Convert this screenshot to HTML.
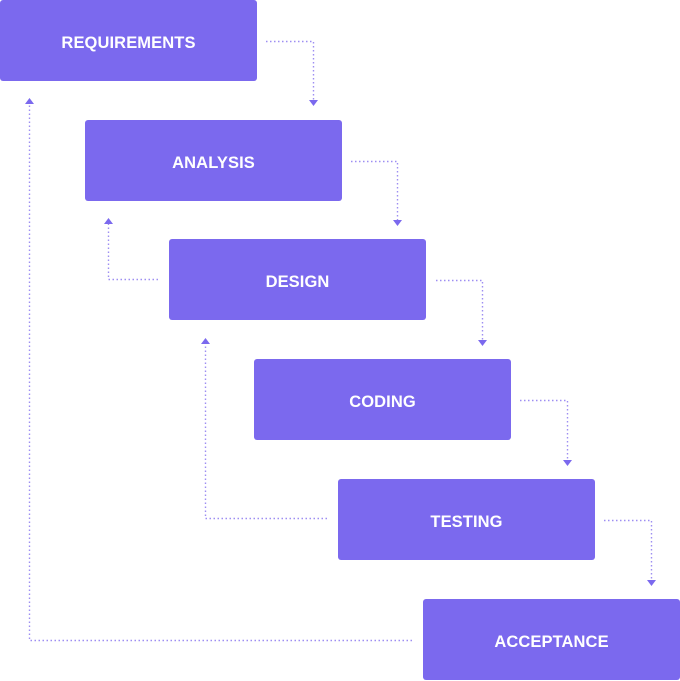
<!DOCTYPE html>
<html><head><style>
body{margin:0;width:680px;height:681px;background:#fff;overflow:hidden;position:relative;font-family:"Liberation Sans",sans-serif}
.b{position:absolute;box-sizing:border-box;padding-top:6px;width:257px;height:81px;background:#7b69ee;border-radius:3px;color:#fff;font-weight:bold;font-size:16.5px;display:flex;align-items:center;justify-content:center;letter-spacing:0.1px}
svg{position:absolute;left:0;top:0}
</style></head><body>
<div class="b" style="left:0;top:0">REQUIREMENTS</div>
<div class="b" style="left:85px;top:120px">ANALYSIS</div>
<div class="b" style="left:169px;top:239px">DESIGN</div>
<div class="b" style="left:254px;top:359px">CODING</div>
<div class="b" style="left:338px;top:479px">TESTING</div>
<div class="b" style="left:423px;top:599px">ACCEPTANCE</div>
<svg width="680" height="681">
<g fill="none" stroke="#9d8ef2" stroke-width="1.4" stroke-dasharray="1.5 2.5">
<path d="M266 41.5H313.5V100"/>
<path d="M351 161.5H397.5V220"/>
<path d="M436 280.5H482.5V340"/>
<path d="M520 400.5H567.5V460"/>
<path d="M604 520.5H651.5V580"/>
<path d="M158 279.5H108.5V224"/>
<path d="M327 518.5H205.5V344"/>
<path d="M412 640.5H29.5V104"/>
</g>
<g fill="#7b69ee">
<path d="M309 100h9l-4.5 6z"/>
<path d="M393 220h9l-4.5 6z"/>
<path d="M478 340h9l-4.5 6z"/>
<path d="M563 460h9l-4.5 6z"/>
<path d="M647 580h9l-4.5 6z"/>
<path d="M104 224h9l-4.5 -6z"/>
<path d="M201 344h9l-4.5 -6z"/>
<path d="M25 104h9l-4.5 -6z"/>
</g>
</svg>
</body></html>
